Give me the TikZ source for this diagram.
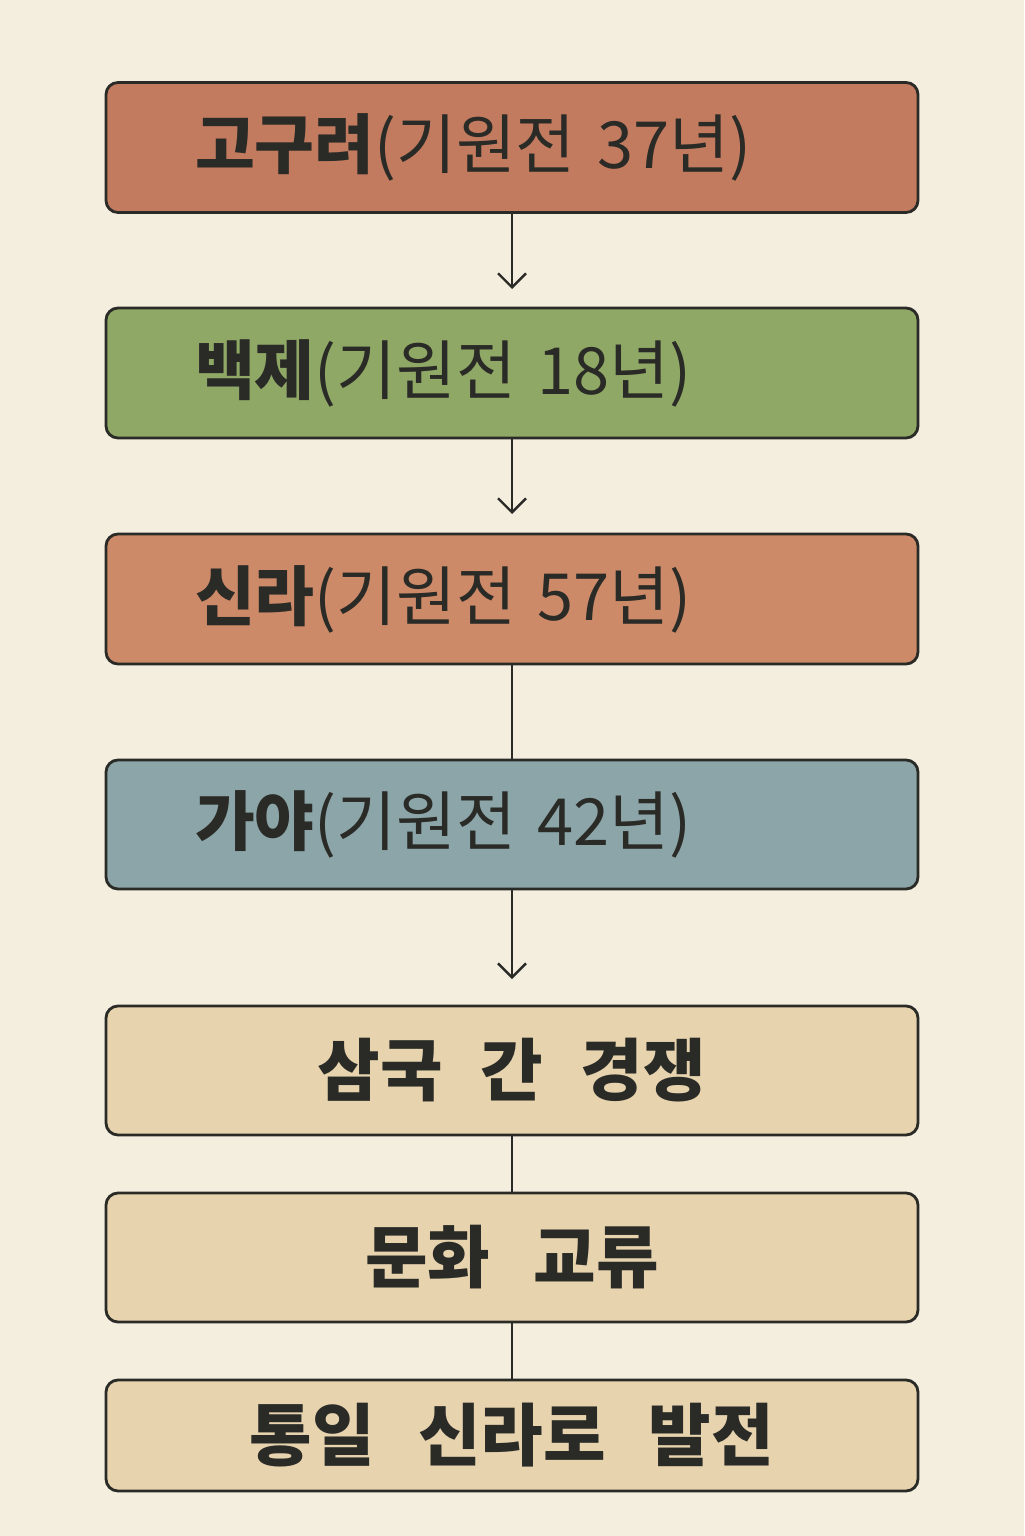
\documentclass[tikz,border=0pt]{standalone}
\usepackage{fontspec}
\setmainfont{Noto Sans CJK KR}
\usetikzlibrary{arrows.meta}
\definecolor{bg}{HTML}{F4EEDF}
\definecolor{ink}{HTML}{2A2A26}
\definecolor{goc}{HTML}{C27B5F}
\definecolor{bec}{HTML}{8FA866}
\definecolor{sic}{HTML}{CD8A69}
\definecolor{gac}{HTML}{8BA5A8}
\definecolor{tan}{HTML}{E7D4AF}
\begin{document}
\begin{tikzpicture}[x=0.5pt,y=-0.5pt,
  kbox/.style={draw=ink, line width=1.4pt, rounded corners=6pt, minimum width=406pt,
    text=ink, inner ysep=0pt},
  kingdom/.style={kbox, minimum height=65pt, text width=317pt, inner xsep=44.5pt, align=left,
    font=\fontsize{32.5}{36}\selectfont},
  stage/.style={kbox, align=center, text width=380pt, inner xsep=13pt, font=\fontsize{34}{38}\selectfont\bfseries},
  conn/.style={draw=ink, line width=1.2pt},
  arr/.style={conn, -{Straight Barb[length=7pt,width=14pt,line width=1.2pt]}}]
\fill[bg] (0,0) rectangle (1024,1536);
\useasboundingbox (0,0) rectangle (1024,1536);
\node[kingdom, fill=goc] (b1) at (512,147.5) {\textbf{고구려}(기원전 37년)};
\node[kingdom, fill=bec] (b2) at (512,373) {\textbf{백제}(기원전 18년)};
\node[kingdom, fill=sic] (b3) at (512,599) {\textbf{신라}(기원전 57년)};
\node[kingdom, fill=gac, minimum height=64.5pt] (b4) at (512,824.5) {\textbf{가야}(기원전 42년)};
\node[stage, fill=tan, minimum height=64.5pt] (b5) at (512,1070.5) {삼국\hspace{0.22em} 간\hspace{0.22em} 경쟁};
\node[stage, fill=tan, minimum height=64.5pt] (b6) at (512,1257.5) {문화\hspace{0.3em} 교류};
\node[stage, fill=tan, minimum height=55.5pt] (b7) at (512,1435.5) {통일\hspace{0.3em} 신라로\hspace{0.3em} 발전};
\coordinate (t2) at (512,289);
\coordinate (t3) at (512,514);
\coordinate (t5) at (512,979);
\draw[arr] (b1.south) -- (t2);
\draw[arr] (b2.south) -- (t3);
\draw[conn] (b3.south) -- (b4.north);
\draw[arr] (b4.south) -- (t5);
\draw[conn] (b5.south) -- (b6.north);
\draw[conn] (b6.south) -- (b7.north);
\end{tikzpicture}
\end{document}
